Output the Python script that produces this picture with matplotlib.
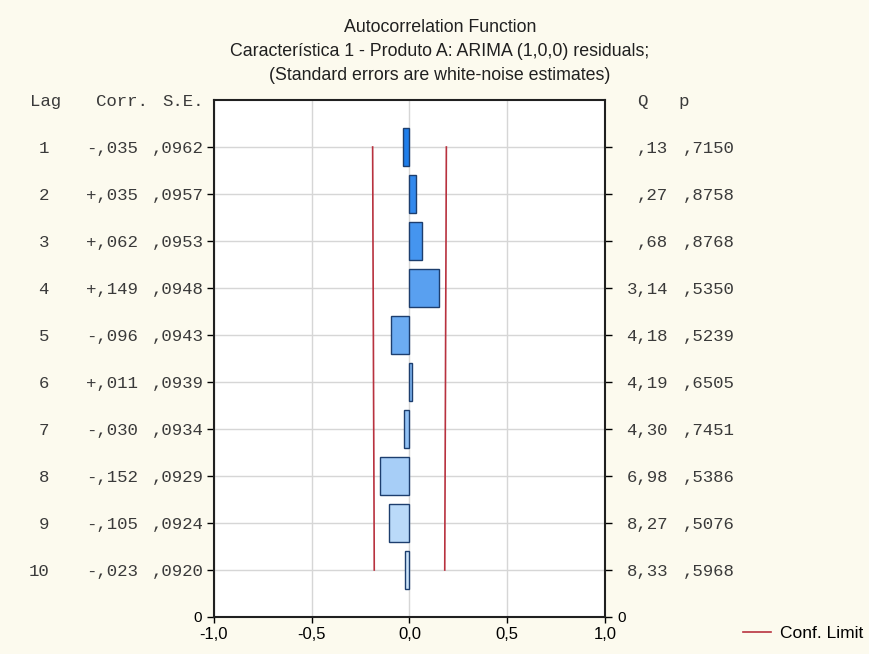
import matplotlib.pyplot as plt
import matplotlib.transforms as mtransforms
from matplotlib.colors import LinearSegmentedColormap
import numpy as np

lags = [1, 2, 3, 4, 5, 6, 7, 8, 9, 10]
corr = [-0.035, 0.035, 0.062, 0.149, -0.096, 0.011, -0.030, -0.152, -0.105, -0.023]
corr_txt = ['-,035', '+,035', '+,062', '+,149', '-,096', '+,011', '-,030', '-,152', '-,105', '-,023']
se = [0.0962, 0.0957, 0.0953, 0.0948, 0.0943, 0.0939, 0.0934, 0.0929, 0.0924, 0.0920]
se_txt = [',0962', ',0957', ',0953', ',0948', ',0943', ',0939', ',0934', ',0929', ',0924', ',0920']
q_txt = [',13', ',27', ',68', '3,14', '4,18', '4,19', '4,30', '6,98', '8,27', '8,33']
p_txt = [',7150', ',8758', ',8768', ',5350', ',5239', ',6505', ',7451', ',5386', ',5076', ',5968']
xticks = [-1.0, -0.5, 0.0, 0.5, 1.0]
xtick_labels = ['-1,0', '-0,5', '0,0', '0,5', '1,0']

bg = '#FCFAEE'
mono = ['Liberation Mono', 'DejaVu Sans Mono']
sans = ['Liberation Sans', 'DejaVu Sans']
txt_col = '#3A3A3A'

fig = plt.figure(figsize=(8.7, 6.54), dpi=100, facecolor=bg)
ax = fig.add_axes([214 / 870, 1 - 617 / 654, (605 - 214) / 870, (617 - 100) / 654])
ax.set_facecolor('white')

cmap = LinearSegmentedColormap.from_list('acf', ['#1F7EEB', '#CDE5FB'])
colors = [cmap(i / (len(lags) - 1)) for i in range(len(lags))]
ax.barh(lags, corr, height=0.8, left=0, color=colors, edgecolor='#1D3E6E', linewidth=1, zorder=3)

# confidence limits, +/- 1.96 standard errors
limit = 1.96 * np.array(se)
ax.plot(limit, lags, color='#B8323F', lw=1.2, zorder=4)
ax.plot(-limit, lags, color='#B8323F', lw=1.2, zorder=4, label='Conf. Limit')

ax.set_xlim(-1, 1)
ax.set_ylim(11, 0)
ax.set_xticks(xticks)
ax.set_xticklabels(xtick_labels, family=sans, fontsize=12)
ax.set_yticks(lags + [11])
ax.set_yticklabels([''] * len(lags) + ['0'], family=sans, fontsize=11)
ax.tick_params(axis='y', which='both', left=True, right=True, labelright=True,
               direction='out', length=5, width=1, pad=4)
ax.tick_params(axis='x', direction='out', length=4, width=1, pad=3)
ax.grid(True, color='#D6D6D6', lw=1, zorder=0)
for s in ax.spines.values():
    s.set_linewidth(1.5)
    s.set_color('#202020')

# table columns beside the plot
tr = mtransforms.blended_transform_factory(fig.transFigure, ax.transData)
def fx(px):
    return px / 870

def cell(x, y, s, ha='right'):
    ax.text(fx(x), y, s, transform=tr, ha=ha, va='center_baseline',
            family=mono, fontsize=12.5, color=txt_col)

for i, lag in enumerate(lags):
    cell(49, lag, str(lag))
    cell(138, lag, corr_txt[i])
    cell(204, lag, se_txt[i])
    cell(668, lag, q_txt[i])
    cell(735, lag, p_txt[i])

cell(30, 0, 'Lag', ha='left')
cell(148, 0, 'Corr.')
cell(204, 0, 'S.E.')
cell(642, 0, 'Q', ha='center')
cell(684, 0, 'p', ha='center')

fig.text(fx(440), 1 - 28 / 654, 'Autocorrelation Function', ha='center', va='center', family=sans, fontsize=12.8, color='#202020')
fig.text(fx(440), 1 - 52 / 654, 'Característica 1 - Produto A: ARIMA (1,0,0) residuals;', ha='center', va='center', family=sans, fontsize=12.8, color='#202020')
fig.text(fx(440), 1 - 75 / 654, '(Standard errors are white-noise estimates)', ha='center', va='center', family=sans, fontsize=12.8, color='#202020')

fig.legend(loc='center', bbox_to_anchor=(fx(803), 1 - 633 / 654), frameon=False,
           prop={'family': sans, 'size': 12.5}, handlelength=1.6, handletextpad=0.5)

fig.savefig('out.png', dpi=100, facecolor=bg)
